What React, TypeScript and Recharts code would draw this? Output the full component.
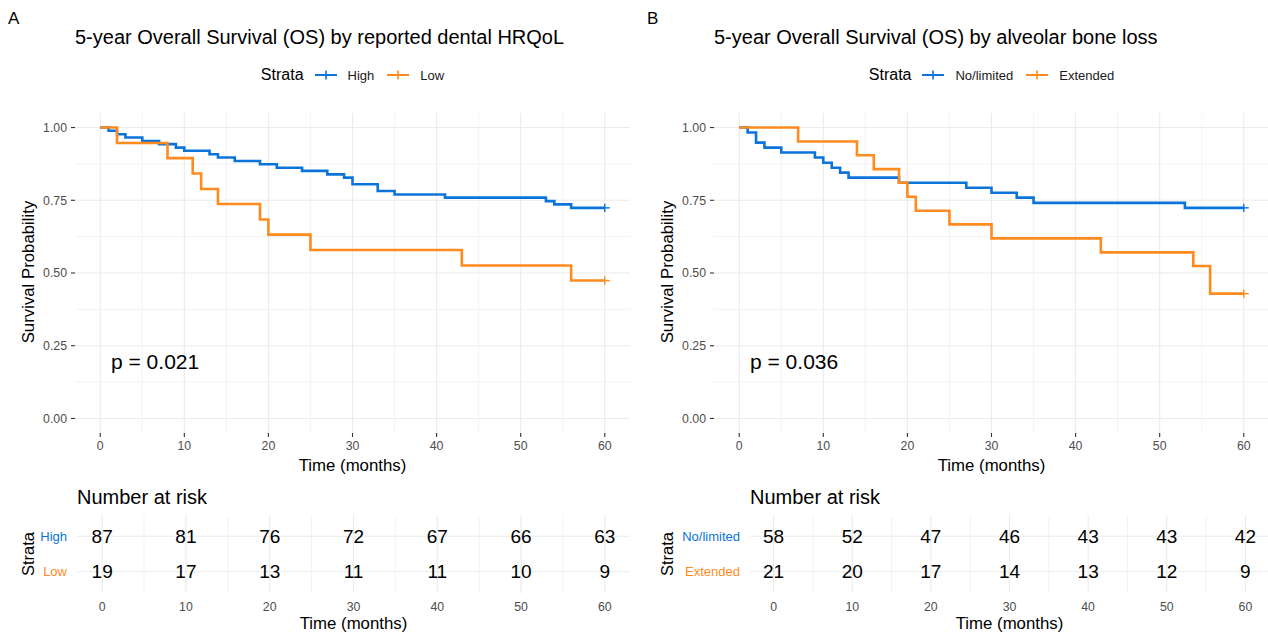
import React from 'react';
import { ComposedChart, Line, Scatter, XAxis, YAxis, ReferenceLine, Legend } from 'recharts';

// ---------- data ----------
const timeTicks = [0, 10, 20, 30, 40, 50, 60];
const timeMinor = [5, 15, 25, 35, 45, 55];
const survTicks = [0, 0.25, 0.5, 0.75, 1];
const survMinor = [0.125, 0.375, 0.625, 0.875];

// Panel A: reported dental HRQoL
const hrqolHighTimes = [0, 1, 2, 3, 5, 7, 9, 10, 13, 14, 16, 19, 21, 24, 27, 29, 30, 33, 35, 41, 53, 54, 56, 60];
const hrqolHighSurv = [1, 0.989, 0.977, 0.966, 0.954, 0.943, 0.931, 0.92, 0.908, 0.897, 0.885, 0.874, 0.862, 0.851, 0.839, 0.828, 0.805, 0.782, 0.77, 0.759, 0.747, 0.736, 0.724, 0.724];
const hrqolLowTimes = [0, 2, 8, 11, 12, 14, 19, 20, 25, 43, 56, 60];
const hrqolLowSurv = [1, 0.947, 0.895, 0.842, 0.789, 0.737, 0.684, 0.632, 0.579, 0.526, 0.474, 0.474];

// Panel B: alveolar bone loss
const boneNoTimes = [0, 1, 2, 3, 5, 9, 10, 11, 12, 13, 19, 27, 30, 33, 35, 53, 60];
const boneNoSurv = [1, 0.983, 0.948, 0.931, 0.914, 0.897, 0.879, 0.862, 0.845, 0.828, 0.81, 0.793, 0.776, 0.759, 0.741, 0.724, 0.724];
const boneExtTimes = [0, 7, 14, 16, 19, 20, 21, 25, 30, 43, 54, 56, 60];
const boneExtSurv = [1, 0.952, 0.905, 0.857, 0.81, 0.762, 0.714, 0.667, 0.619, 0.571, 0.524, 0.429, 0.429];

// Number at risk
const riskTimes = [0, 10, 20, 30, 40, 50, 60];
const hrqolHighRisk = [87, 81, 76, 72, 67, 66, 63];
const hrqolLowRisk = [19, 17, 13, 11, 11, 10, 9];
const boneNoRisk = [58, 52, 47, 46, 43, 43, 42];
const boneExtRisk = [21, 20, 17, 14, 13, 12, 9];

const hrqolNames = ['High', 'Low'];
const boneNames = ['No/limited', 'Extended'];

// ---------- style ----------
const BLUE = '#0A74DA';
const ORANGE = '#FF8A1E';
const GRID = '#ebebeb';
const TICK = '#4d4d4d';
const FONT = '"Liberation Sans", Arial, Helvetica, sans-serif';

const toCurve = (times: number[], surv: number[]) => times.map((t, i) => ({ t, s: surv[i] }));
const lastPoint = (times: number[], surv: number[]) => [{ t: times[times.length - 1], s: surv[surv.length - 1] }];
const toRisk = (counts: number[], row: number) => riskTimes.map((t, i) => ({ t, row, n: counts[i] }));

const PlusShape = (color: string) => (props: any) => {
  const { cx, cy } = props;
  if (cx == null || cy == null) return <g />;
  return (
    <g>
      <line x1={cx - 5} x2={cx + 5} y1={cy} y2={cy} stroke={color} strokeWidth={1.4} />
      <line x1={cx} x2={cx} y1={cy - 4.2} y2={cy + 4.2} stroke={color} strokeWidth={1.4} />
    </g>
  );
};

const RiskNumber = (props: any) => {
  const { cx, cy, payload } = props;
  if (cx == null || cy == null) return <g />;
  return (
    <text x={cx} y={cy} textAnchor="middle" dominantBaseline="central" fontSize={19} fill="#000" fontFamily={FONT}>
      {payload.n}
    </text>
  );
};

const LegendKey = ({ color }: { color: string }) => (
  <svg width={22} height={12} style={{ display: 'block' }}>
    <line x1={0} x2={22} y1={6} y2={6} stroke={color} strokeWidth={2} />
    <line x1={11} x2={11} y1={1.5} y2={10.5} stroke={color} strokeWidth={1.6} />
  </svg>
);

type PanelProps = {
  left: number;
  letter: string;
  title: string;
  names: string[];
  curves: { t: number; s: number }[][];
  censor: { t: number; s: number }[][];
  risks: { t: number; row: number; n: number }[][];
  pText: string;
  riskLeft: number;
};

const colors = [BLUE, ORANGE];

function Panel({ left, letter, title, names, curves, censor, risks, pText, riskLeft }: PanelProps) {
  const legendContent = (props: any) => {
    const payload = (props.payload || []).filter((p: any) => p.type !== 'none' && names.includes(p.value));
    payload.sort((a: any, b: any) => names.indexOf(a.value) - names.indexOf(b.value));
    return (
      <div style={{ display: 'flex', justifyContent: 'center', alignItems: 'center', height: 24, fontFamily: FONT }}>
        <span style={{ fontSize: 16, color: '#000', marginRight: 11 }}>Strata</span>
        {payload.map((p: any, i: number) => (
          <div key={p.value} style={{ display: 'flex', alignItems: 'center', marginRight: i === payload.length - 1 ? 0 : 13 }}>
            <LegendKey color={p.color} />
            <span style={{ fontSize: 13, color: '#1a1a1a', marginLeft: 11 }}>{p.value}</span>
          </div>
        ))}
      </div>
    );
  };

  const RiskTick = (props: any) => {
    const { x, y, payload } = props;
    const idx = payload.value - 1;
    return (
      <text x={x} y={y} textAnchor="end" dominantBaseline="central" fontSize={13} fill={colors[idx]} fontFamily={FONT}>
        {names[idx]}
      </text>
    );
  };

  return (
    <div style={{ position: 'absolute', left, top: 0, width: 640, height: 634 }}>
      <div style={{ position: 'absolute', left: 0, top: 0 }}>
        <ComposedChart width={640} height={480} margin={{ top: 113, right: 10, bottom: 0, left: 0 }}>
          {timeMinor.map((v) => (
            <ReferenceLine key={'vm' + v} x={v} stroke={GRID} strokeWidth={0.6} />
          ))}
          {survMinor.map((v) => (
            <ReferenceLine key={'hm' + v} y={v} stroke={GRID} strokeWidth={0.6} />
          ))}
          {timeTicks.map((v) => (
            <ReferenceLine key={'vM' + v} x={v} stroke={GRID} strokeWidth={1.1} />
          ))}
          {survTicks.map((v) => (
            <ReferenceLine key={'hM' + v} y={v} stroke={GRID} strokeWidth={1.1} />
          ))}
          <XAxis
            dataKey="t"
            type="number"
            domain={[-3, 63]}
            ticks={timeTicks}
            height={47}
            axisLine={false}
            tickSize={4}
            tickMargin={4}
            tickLine={{ stroke: '#333333', strokeWidth: 1.1 }}
            tick={{ fill: TICK, fontSize: 12.3, fontFamily: FONT }}
            interval={0}
          />
          <YAxis
            dataKey="s"
            type="number"
            domain={[-0.05, 1.05]}
            ticks={survTicks}
            width={75}
            axisLine={false}
            tickSize={4}
            tickMargin={4}
            tickLine={{ stroke: '#333333', strokeWidth: 1.1 }}
            tick={{ fill: TICK, fontSize: 12.3, fontFamily: FONT }}
            tickFormatter={(v: number) => v.toFixed(2)}
            interval={0}
          />
          <Legend verticalAlign="middle" layout="horizontal" content={legendContent} wrapperStyle={{ top: 63, left: 75, width: 555, height: 24 }} />
          {curves.map((c, i) => (
            <Line
              key={names[i]}
              name={names[i]}
              data={c}
              dataKey="s"
              type="stepAfter"
              stroke={colors[i]}
              strokeWidth={2.6}
              dot={false}
              activeDot={false}
              isAnimationActive={false}
            />
          ))}
          {censor.map((c, i) => (
            <Scatter
              key={'c' + names[i]}
              name={'censor ' + names[i]}
              data={c}
              dataKey="s"
              legendType="none"
              shape={PlusShape(colors[i])}
              isAnimationActive={false}
            />
          ))}
        </ComposedChart>
      </div>

      <div style={{ position: 'absolute', left: 0, top: 480 }}>
        <ComposedChart width={640} height={154} margin={{ top: 35, right: 10, bottom: 0, left: 0 }}>
          {timeMinor.map((v) => (
            <ReferenceLine key={'rvm' + v} x={v} stroke={GRID} strokeWidth={0.6} />
          ))}
          {timeTicks.map((v) => (
            <ReferenceLine key={'rvM' + v} x={v} stroke={GRID} strokeWidth={1.1} />
          ))}
          {[1, 2].map((v) => (
            <ReferenceLine key={'rh' + v} y={v} stroke={GRID} strokeWidth={1.1} />
          ))}
          <XAxis
            dataKey="t"
            type="number"
            domain={[-3, 63]}
            ticks={timeTicks}
            height={41}
            axisLine={false}
            tickLine={false}
            tickSize={0}
            tickMargin={9}
            tick={{ fill: TICK, fontSize: 12.3, fontFamily: FONT }}
            interval={0}
          />
          <YAxis
            dataKey="row"
            type="number"
            domain={[0.4, 2.6]}
            reversed
            ticks={[1, 2]}
            width={riskLeft}
            axisLine={false}
            tickLine={false}
            tickSize={0}
            tickMargin={10}
            tick={<RiskTick />}
            interval={0}
          />
          {risks.map((r, i) => (
            <Scatter key={'r' + names[i]} name={'risk ' + names[i]} data={r} dataKey="row" shape={RiskNumber} legendType="none" isAnimationActive={false} />
          ))}
        </ComposedChart>
      </div>

      <svg width={640} height={634} style={{ position: 'absolute', left: 0, top: 0, pointerEvents: 'none' }} fontFamily={FONT}>
        <text x={8} y={24} fontSize={17} fill="#000">{letter}</text>
        <text x={75} y={44} fontSize={20} fill="#000">{title}</text>
        <text x={28.5} y={272} fontSize={16.8} fill="#000" textAnchor="middle" dominantBaseline="central" transform="rotate(-90 28.5 272)">
          Survival Probability
        </text>
        <text x={352.5} y={471} fontSize={16.8} fill="#000" textAnchor="middle">Time (months)</text>
        <text x={111} y={369} fontSize={21} fill="#000">{pText}</text>
        <text x={riskLeft} y={504} fontSize={20} fill="#000">Number at risk</text>
        <text x={28} y={554} fontSize={16.5} fill="#000" textAnchor="middle" dominantBaseline="central" transform="rotate(-90 28 554)">
          Strata
        </text>
        <text x={(riskLeft + 630) / 2} y={629} fontSize={16.8} fill="#000" textAnchor="middle">Time (months)</text>
      </svg>
    </div>
  );
}

export default function App() {
  return (
    <div style={{ position: 'absolute', left: 0, top: 0, width: 1268, height: 634, overflow: 'hidden', background: '#fff' }}>
      <Panel
        left={0}
        letter="A"
        title="5-year Overall Survival (OS) by reported dental HRQoL"
        names={hrqolNames}
        curves={[toCurve(hrqolHighTimes, hrqolHighSurv), toCurve(hrqolLowTimes, hrqolLowSurv)]}
        censor={[lastPoint(hrqolHighTimes, hrqolHighSurv), lastPoint(hrqolLowTimes, hrqolLowSurv)]}
        risks={[toRisk(hrqolHighRisk, 1), toRisk(hrqolLowRisk, 2)]}
        pText="p = 0.021"
        riskLeft={77}
      />
      <Panel
        left={639}
        letter="B"
        title="5-year Overall Survival (OS) by alveolar bone loss"
        names={boneNames}
        curves={[toCurve(boneNoTimes, boneNoSurv), toCurve(boneExtTimes, boneExtSurv)]}
        censor={[lastPoint(boneNoTimes, boneNoSurv), lastPoint(boneExtTimes, boneExtSurv)]}
        risks={[toRisk(boneNoRisk, 1), toRisk(boneExtRisk, 2)]}
        pText="p = 0.036"
        riskLeft={111}
      />
    </div>
  );
}
